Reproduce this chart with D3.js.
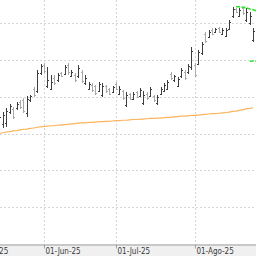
<!DOCTYPE html>
<html>
<head>
<meta charset="utf-8">
<script src="https://cdn.jsdelivr.net/npm/d3@7"></script>
<style>
  body { margin: 0; background: #fff; }
  svg { display: block; }
</style>
</head>
<body>
<div id="chart"></div>
<script>
// ohlc.js - daily OHLC bars with a long moving average and two stop levels

// Bars start on this trading day (weekdays only)
const firstBar = "2025-05-14";

const open  = [7.30,7.25,7.28,7.58,7.66,7.68,7.86,7.90,7.55,7.90,8.20,8.15,8.65,8.85,8.30,8.22,8.50,8.44,8.64,8.62,
               8.86,8.56,8.60,8.55,8.68,8.36,8.22,8.33,8.28,8.16,8.05,8.28,8.20,8.13,8.35,8.08,8.15,7.78,8.06,7.94,
               8.12,8.02,7.82,8.08,8.02,8.02,7.82,8.08,8.16,8.22,8.62,8.44,8.30,8.55,8.68,8.66,8.80,8.86,8.90,9.18,
               9.70,9.62,9.82,9.75,9.86,9.70,9.66,9.85,10.18,10.38,10.20,10.40,10.08,10.00,9.55];
const high  = [7.55,7.58,7.69,7.80,7.72,7.86,7.91,7.96,8.02,8.05,8.26,8.72,8.89,8.91,8.81,8.59,8.59,8.64,8.67,8.86,
               8.91,8.72,8.64,8.86,8.72,8.59,8.40,8.37,8.32,8.40,8.37,8.32,8.24,8.29,8.40,8.29,8.18,8.13,8.10,8.13,
               8.15,8.24,8.15,8.13,8.26,8.05,8.05,8.26,8.37,8.45,8.67,8.59,8.53,8.78,8.72,8.89,9.35,8.91,9.27,9.48,
               9.76,9.81,9.86,9.86,9.89,9.86,9.86,10.08,10.44,10.41,10.41,10.44,10.41,10.30,9.86];
const low   = [7.25,7.15,7.18,7.53,7.39,7.64,7.67,7.56,7.45,7.86,7.99,8.10,8.59,8.64,8.24,8.18,8.32,8.40,8.53,8.59,
               8.59,8.53,8.40,8.51,8.37,8.32,8.18,8.13,8.05,8.13,7.99,8.10,8.05,8.10,8.18,8.05,7.91,7.72,7.91,7.91,
               7.96,7.99,7.77,7.91,7.99,7.86,7.77,8.05,8.13,8.18,8.45,8.40,8.26,8.51,8.45,8.62,8.72,8.53,8.86,9.13,
               9.46,9.59,9.67,9.73,9.73,9.67,9.62,9.81,10.14,10.27,10.16,10.22,10.03,9.95,9.48];
const close = [7.45,7.50,7.60,7.74,7.45,7.81,7.72,7.62,7.95,8.01,8.04,8.65,8.83,8.70,8.45,8.40,8.36,8.58,8.56,8.80,
               8.66,8.68,8.45,8.78,8.42,8.52,8.35,8.18,8.10,8.35,8.30,8.15,8.08,8.25,8.22,8.22,7.96,8.05,7.95,8.08,
               8.00,8.18,8.05,7.96,8.20,7.90,8.00,8.22,8.32,8.40,8.50,8.55,8.48,8.72,8.50,8.84,9.25,8.60,9.20,9.42,
               9.52,9.76,9.70,9.84,9.76,9.82,9.80,10.03,10.38,10.30,10.36,10.26,10.30,10.20,9.78];
const movingAvg = [7.01,7.02,7.04,7.05,7.07,7.08,7.10,7.11,7.12,7.14,7.15,7.17,7.18,7.19,7.20,7.21,7.21,7.23,7.23,7.24,
                   7.25,7.26,7.27,7.28,7.29,7.29,7.30,7.30,7.31,7.32,7.32,7.33,7.33,7.34,7.35,7.35,7.36,7.36,7.37,7.38,
                   7.38,7.39,7.39,7.40,7.41,7.41,7.42,7.42,7.43,7.44,7.44,7.45,7.46,7.47,7.47,7.48,7.49,7.49,7.50,7.51,
                   7.52,7.53,7.54,7.54,7.55,7.56,7.57,7.58,7.60,7.61,7.63,7.65,7.67,7.68,7.70];

// Green dashed stop levels
const stopUpperStart = "2025-08-19";
const stopUpper = [10.44,10.44,10.43,10.41,10.38,10.36,10.33];
const stopLowerStart = "2025-08-25";
const stopLower = [8.96,8.97,8.97];

// Axis labels and grid levels
const tickLabels = ["01-May-25","01-Jun-25","01-Jul-25","01-Ago-25"];
const gridPrices = [5, 6, 7, 8, 9, 10];

const W = 256, H = 256, plotBottom = 244;
const fmt = d3.timeFormat("%Y-%m-%d");

// All weekdays from May 1 to end of August
const days = d3.timeDay.range(new Date(2025, 4, 1), new Date(2025, 7, 30))
  .filter(d => d.getDay() !== 0 && d.getDay() !== 6);
const dayKeys = days.map(fmt);

// First trading day of each month for the ticks
const monthStarts = days.filter((d, i) => i === 0 || d.getMonth() !== days[i - 1].getMonth()).map(fmt);

const x = d3.scalePoint().domain(dayKeys).range([-31.5, 263.5]);
const y = d3.scaleLinear().domain([4, 10]).range([plotBottom, 23]);

// Build rows
const start = dayKeys.indexOf(firstBar);
const bars = open.map((o, i) => ({
  key: dayKeys[start + i], open: o, high: high[i], low: low[i], close: close[i], ma: movingAvg[i]
}));
const levelRows = (startKey, vals) => {
  const s = dayKeys.indexOf(startKey);
  return vals.map((v, i) => ({ key: dayKeys[s + i], v }));
};

const svg = d3.select("#chart").append("svg")
  .attr("width", W).attr("height", H);

svg.append("defs").append("clipPath").attr("id", "plot")
  .append("rect").attr("x", 0).attr("y", 0).attr("width", W).attr("height", plotBottom);

// Bottom axis band
svg.append("rect")
  .attr("x", 0).attr("y", plotBottom).attr("width", W).attr("height", H - plotBottom)
  .attr("fill", "#f0f0f0");

const plot = svg.append("g").attr("clip-path", "url(#plot)");

// Gridlines
plot.selectAll(".hgrid").data(gridPrices).enter().append("line")
  .attr("x1", 0).attr("x2", W)
  .attr("y1", d => Math.round(y(d)) + 0.5).attr("y2", d => Math.round(y(d)) + 0.5)
  .attr("stroke", "#d6d6d6").attr("stroke-dasharray", "2,2");

plot.selectAll(".vgrid").data(monthStarts).enter().append("line")
  .attr("x1", d => Math.round(x(d)) + 0.5).attr("x2", d => Math.round(x(d)) + 0.5)
  .attr("y1", 0).attr("y2", plotBottom)
  .attr("stroke", "#d6d6d6").attr("stroke-dasharray", "2,2");

// Moving average
plot.append("path")
  .datum(bars)
  .attr("fill", "none")
  .attr("stroke", "#fbb45c")
  .attr("stroke-width", 1.2)
  .attr("d", d3.line().x(d => x(d.key)).y(d => y(d.ma)));

// OHLC bars
const bar = plot.selectAll(".bar").data(bars).enter().append("g")
  .attr("class", "bar")
  .attr("stroke", d => d.close >= d.open ? "#3e3e3e" : "#a9a9a9")
  .attr("shape-rendering", "crispEdges");

const cx = d => Math.round(x(d.key)) + 0.5;
bar.append("line")
  .attr("x1", cx).attr("x2", cx)
  .attr("y1", d => y(d.high)).attr("y2", d => y(d.low));
bar.append("line")
  .attr("x1", d => cx(d) - 1.5).attr("x2", d => cx(d) - 0.5)
  .attr("y1", d => Math.round(y(d.open)) + 0.5).attr("y2", d => Math.round(y(d.open)) + 0.5);
bar.append("line")
  .attr("x1", d => cx(d) + 0.5).attr("x2", d => cx(d) + 1.5)
  .attr("y1", d => Math.round(y(d.close)) + 0.5).attr("y2", d => Math.round(y(d.close)) + 0.5);

// Stop levels
[levelRows(stopUpperStart, stopUpper), levelRows(stopLowerStart, stopLower)].forEach(rows => {
  plot.append("path")
    .datum(rows)
    .attr("fill", "none")
    .attr("stroke", "#2ee62e")
    .attr("stroke-width", 1.6)
    .attr("stroke-dasharray", "4,1.5")
    .attr("d", d3.line().x(d => x(d.key)).y(d => y(d.v)));
});

// X axis
const axis = svg.append("g")
  .attr("transform", `translate(0,${plotBottom + 0.5})`)
  .call(d3.axisBottom(x)
    .tickValues(monthStarts)
    .tickSize(4)
    .tickSizeOuter(0)
    .tickFormat((d, i) => tickLabels[i]));

axis.select(".domain").attr("stroke", "#a0a0a0");
axis.selectAll(".tick line").attr("stroke", "#a0a0a0");
axis.selectAll(".tick text")
  .attr("text-anchor", "start")
  .attr("x", 1)
  .attr("y", 4)
  .attr("fill", "#3a3a3a")
  .style("font-family", "'Liberation Sans Narrow', 'DejaVu Sans Condensed', sans-serif")
  .style("font-size", "8px");
</script>
</body>
</html>
